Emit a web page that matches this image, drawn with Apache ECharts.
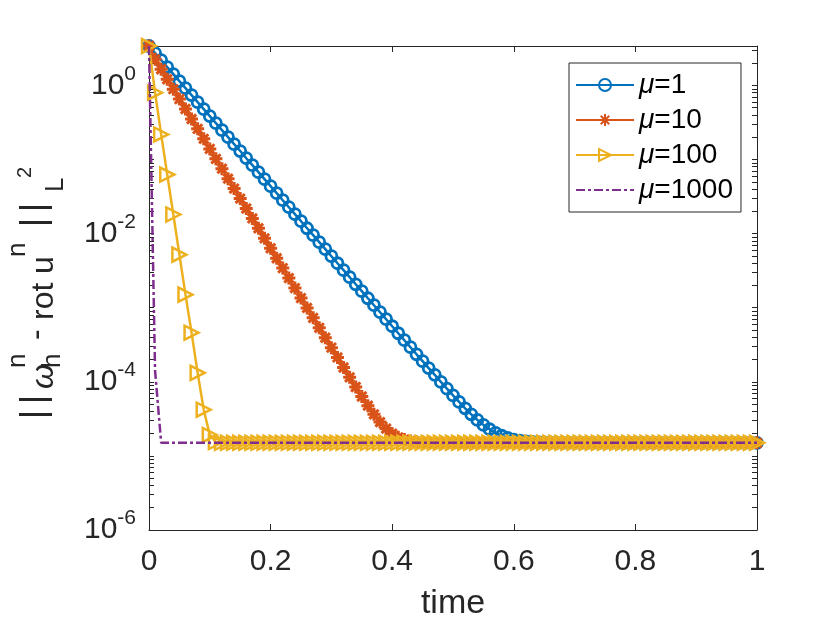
<!DOCTYPE html>
<html>
<head>
<meta charset="utf-8">
<script src="https://cdn.jsdelivr.net/npm/echarts@6/dist/echarts.min.js"></script>
<style>html,body{margin:0;padding:0;background:#fff}#c{width:840px;height:630px}</style>
</head>
<body>
<div id="c"></div>
<script>
const time = [
0,0.01,0.02,0.03,0.04,0.05,0.06,0.07,0.08,0.09,
0.1,0.11,0.12,0.13,0.14,0.15,0.16,0.17,0.18,0.19,
0.2,0.21,0.22,0.23,0.24,0.25,0.26,0.27,0.28,0.29,
0.3,0.31,0.32,0.33,0.34,0.35,0.36,0.37,0.38,0.39,
0.4,0.41,0.42,0.43,0.44,0.45,0.46,0.47,0.48,0.49,
0.5,0.51,0.52,0.53,0.54,0.55,0.56,0.57,0.58,0.59,
0.6,0.61,0.62,0.63,0.64,0.65,0.66,0.67,0.68,0.69,
0.7,0.71,0.72,0.73,0.74,0.75,0.76,0.77,0.78,0.79,
0.8,0.81,0.82,0.83,0.84,0.85,0.86,0.87,0.88,0.89,
0.9,0.91,0.92,0.93,0.94,0.95,0.96,0.97,0.98,0.99,
1];

const mu1 = [
3.4,2.73,2.19,1.76,1.42,1.14,0.918,0.739,0.594,0.478,
0.385,0.309,0.249,0.2,0.161,0.13,0.104,0.0839,0.0675,0.0543,
0.0437,0.0351,0.0282,0.0227,0.0183,0.0147,0.0118,0.00952,0.00766,0.00616,
0.00495,0.00398,0.00321,0.00258,0.00207,0.00167,0.00134,0.00108,8.69e-4,6.99e-4,
5.62e-4,4.52e-4,3.64e-4,2.93e-4,2.35e-4,1.9e-4,1.53e-4,1.24e-4,9.97e-5,8.07e-5,
6.55e-5,5.35e-5,4.39e-5,3.64e-5,3.06e-5,2.62e-5,2.29e-5,2.04e-5,1.87e-5,1.75e-5,
1.66e-5,1.61e-5,1.57e-5,1.55e-5,1.53e-5,1.52e-5,1.51e-5,1.5e-5,1.5e-5,1.5e-5,
1.5e-5,1.5e-5,1.5e-5,1.5e-5,1.5e-5,1.5e-5,1.5e-5,1.5e-5,1.5e-5,1.5e-5,
1.5e-5,1.5e-5,1.5e-5,1.5e-5,1.5e-5,1.5e-5,1.5e-5,1.5e-5,1.5e-5,1.5e-5,
1.5e-5,1.5e-5,1.5e-5,1.5e-5,1.5e-5,1.5e-5,1.5e-5,1.5e-5,1.5e-5,1.5e-5,
1.5e-5];

const mu10 = [
3.4,2.25,1.65,1.21,0.89,0.653,0.48,0.352,0.259,0.19,
0.139,0.102,0.0751,0.0551,0.0405,0.0297,0.0218,0.016,0.0118,0.00864,
0.00634,0.00465,0.00342,0.00251,0.00184,0.00135,9.93e-4,7.29e-4,5.35e-4,3.93e-4,
2.89e-4,2.13e-4,1.56e-4,1.15e-4,8.51e-5,6.33e-5,4.76e-5,3.64e-5,2.86e-5,2.34e-5,
1.99e-5,1.78e-5,1.66e-5,1.59e-5,1.55e-5,1.53e-5,1.51e-5,1.5e-5,1.5e-5,1.5e-5,
1.5e-5,1.5e-5,1.5e-5,1.5e-5,1.5e-5,1.5e-5,1.5e-5,1.5e-5,1.5e-5,1.5e-5,
1.5e-5,1.5e-5,1.5e-5,1.5e-5,1.5e-5,1.5e-5,1.5e-5,1.5e-5,1.5e-5,1.5e-5,
1.5e-5,1.5e-5,1.5e-5,1.5e-5,1.5e-5,1.5e-5,1.5e-5,1.5e-5,1.5e-5,1.5e-5,
1.5e-5,1.5e-5,1.5e-5,1.5e-5,1.5e-5,1.5e-5,1.5e-5,1.5e-5,1.5e-5,1.5e-5,
1.5e-5,1.5e-5,1.5e-5,1.5e-5,1.5e-5,1.5e-5,1.5e-5,1.5e-5,1.5e-5,1.5e-5,
1.5e-5];

const mu100 = [
3.4,0.797,0.218,0.0627,0.0181,0.0052,0.0015,4.6e-4,1.32e-4,4.2e-5,
1.92e-5,1.54e-5,1.5e-5,1.5e-5,1.5e-5,1.5e-5,1.5e-5,1.5e-5,1.5e-5,1.5e-5,
1.5e-5,1.5e-5,1.5e-5,1.5e-5,1.5e-5,1.5e-5,1.5e-5,1.5e-5,1.5e-5,1.5e-5,
1.5e-5,1.5e-5,1.5e-5,1.5e-5,1.5e-5,1.5e-5,1.5e-5,1.5e-5,1.5e-5,1.5e-5,
1.5e-5,1.5e-5,1.5e-5,1.5e-5,1.5e-5,1.5e-5,1.5e-5,1.5e-5,1.5e-5,1.5e-5,
1.5e-5,1.5e-5,1.5e-5,1.5e-5,1.5e-5,1.5e-5,1.5e-5,1.5e-5,1.5e-5,1.5e-5,
1.5e-5,1.5e-5,1.5e-5,1.5e-5,1.5e-5,1.5e-5,1.5e-5,1.5e-5,1.5e-5,1.5e-5,
1.5e-5,1.5e-5,1.5e-5,1.5e-5,1.5e-5,1.5e-5,1.5e-5,1.5e-5,1.5e-5,1.5e-5,
1.5e-5,1.5e-5,1.5e-5,1.5e-5,1.5e-5,1.5e-5,1.5e-5,1.5e-5,1.5e-5,1.5e-5,
1.5e-5,1.5e-5,1.5e-5,1.5e-5,1.5e-5,1.5e-5,1.5e-5,1.5e-5,1.5e-5,1.5e-5,
1.5e-5];

const mu1000 = [
3.4,1.4e-4,1.5e-5,1.5e-5,1.5e-5,1.5e-5,1.5e-5,1.5e-5,1.5e-5,1.5e-5,
1.5e-5,1.5e-5,1.5e-5,1.5e-5,1.5e-5,1.5e-5,1.5e-5,1.5e-5,1.5e-5,1.5e-5,
1.5e-5,1.5e-5,1.5e-5,1.5e-5,1.5e-5,1.5e-5,1.5e-5,1.5e-5,1.5e-5,1.5e-5,
1.5e-5,1.5e-5,1.5e-5,1.5e-5,1.5e-5,1.5e-5,1.5e-5,1.5e-5,1.5e-5,1.5e-5,
1.5e-5,1.5e-5,1.5e-5,1.5e-5,1.5e-5,1.5e-5,1.5e-5,1.5e-5,1.5e-5,1.5e-5,
1.5e-5,1.5e-5,1.5e-5,1.5e-5,1.5e-5,1.5e-5,1.5e-5,1.5e-5,1.5e-5,1.5e-5,
1.5e-5,1.5e-5,1.5e-5,1.5e-5,1.5e-5,1.5e-5,1.5e-5,1.5e-5,1.5e-5,1.5e-5,
1.5e-5,1.5e-5,1.5e-5,1.5e-5,1.5e-5,1.5e-5,1.5e-5,1.5e-5,1.5e-5,1.5e-5,
1.5e-5,1.5e-5,1.5e-5,1.5e-5,1.5e-5,1.5e-5,1.5e-5,1.5e-5,1.5e-5,1.5e-5,
1.5e-5,1.5e-5,1.5e-5,1.5e-5,1.5e-5,1.5e-5,1.5e-5,1.5e-5,1.5e-5,1.5e-5,
1.5e-5];

const seriesNames = ['μ=1', 'μ=10', 'μ=100', 'μ=1000'];
const seriesValues = [mu1, mu10, mu100, mu1000];
const yLabelValues = [1e-6, 1e-4, 1e-2, 1];
const xTickLabels = [0, 0.2, 0.4, 0.6, 0.8, 1];

// minor tick positions of the log axis (m x 10^k)
const yTickValues = [];
for (let k = -6; k <= 0; k++) {
  for (let m = 1; m <= 9; m++) {
    const v = Number(m + 'e' + k);
    if (v <= 3.4) yTickValues.push(v);
  }
}

const AX = '#262626';
const FONT = 'Liberation Sans';
const colors = ['#0072BD', '#D95319', '#EDB120', '#7E2F8E'];
const CLEAR = 'rgba(255,255,255,0)';
const asterisk = 'path://M0,-10L0,10M-10,0L10,0M-7.07,-7.07L7.07,7.07M-7.07,7.07L7.07,-7.07';

const styles = [
  { symbol: 'circle', symbolSize: 11, lineStyle: { width: 2.5, type: 'solid' }, itemStyle: { color: CLEAR, borderColor: colors[0], borderWidth: 2.8 } },
  { symbol: asterisk, symbolSize: 13, lineStyle: { width: 2.5, type: 'solid' }, itemStyle: { color: colors[1], borderColor: colors[1], borderWidth: 3 } },
  { symbol: 'triangle', symbolSize: 14, symbolRotate: -90, lineStyle: { width: 2.5, type: 'solid' }, itemStyle: { color: CLEAR, borderColor: colors[2], borderWidth: 2.5 } },
  { symbol: 'none', symbolSize: 0, lineStyle: { width: 2.5, type: [9, 3, 3, 3] }, itemStyle: { color: colors[3] } }
];

const series = seriesNames.map((name, si) => Object.assign({
  name: name,
  type: 'line',
  xAxisIndex: 0,
  yAxisIndex: 0,
  showAllSymbol: true,
  clip: true,
  z: 2 + si,
  data: time.map((t, i) => [t, seriesValues[si][i]])
}, styles[si], { lineStyle: Object.assign({ color: colors[si] }, styles[si].lineStyle) }));

// y-axis title pieces: [text, along, across, font]
const yTitleParts = [
  ['|', 1, -19.5, '35px "' + FONT + '"'],
  ['|', 16, -19.5, '35px "' + FONT + '"'],
  ['ω', 31, -11.1, 'italic 32px "' + FONT + '"'],
  ['n', 52, -37, '26px "' + FONT + '"'],
  ['h', 52, -2, '26px "' + FONT + '"'],
  ['-', 80, -18, '32px "' + FONT + '"'],
  ['rot', 100, -11.1, '32px "' + FONT + '"'],
  ['u', 146, -11.1, '32px "' + FONT + '"'],
  ['n', 163, -37, '26px "' + FONT + '"'],
  ['|', 193, -19.5, '35px "' + FONT + '"'],
  ['|', 208, -19.5, '35px "' + FONT + '"'],
  ['L', 228, 1, '26px "' + FONT + '"'],
  ['2', 242, -30, '20px "' + FONT + '"']
];

const legendData = seriesNames.map((n, i) => i === 3 ? { name: n, itemStyle: { opacity: 0 } } : { name: n });

const chart = echarts.init(document.getElementById('c'), null, { renderer: 'canvas' });
const option = {
  animation: false,
  backgroundColor: '#fff',
  grid: { left: 149, right: 83, top: 46, bottom: 100, containLabel: false },
  xAxis: [{
    type: 'value', min: 0, max: 1, interval: 0.2, position: 'bottom',
    name: 'time', nameLocation: 'middle', nameGap: 57,
    nameTextStyle: { fontSize: 34, color: AX, fontFamily: FONT },
    axisLine: { show: true, onZero: false, lineStyle: { color: AX, width: 1 } },
    axisTick: { show: true, inside: true, length: 6, lineStyle: { color: AX } },
    axisLabel: { fontSize: 30, color: AX, fontFamily: FONT, margin: 17, customValues: xTickLabels },
    splitLine: { show: false }
  }, {
    type: 'value', min: 0, max: 1, interval: 0.2, position: 'top',
    axisLine: { show: true, onZero: false, lineStyle: { color: AX, width: 1 } },
    axisTick: { show: true, inside: true, length: 6, lineStyle: { color: AX } },
    axisLabel: { show: false },
    splitLine: { show: false }
  }],
  yAxis: [{
    type: 'log', logBase: 10, min: 1e-6, max: 3.4, position: 'left',
    axisLine: { show: true, onZero: false, lineStyle: { color: AX, width: 1 } },
    axisTick: { show: true, inside: true, length: 5, lineStyle: { color: AX }, customValues: yTickValues },
    axisLabel: {
      customValues: yLabelValues, margin: 13, color: AX, fontFamily: FONT,
      formatter: function (v) {
        const e = Math.round(Math.log10(v));
        return '{b|10}{s|' + e + '}';
      },
      rich: {
        b: { fontSize: 30, lineHeight: 44, color: AX, fontFamily: FONT },
        s: { fontSize: 21, lineHeight: 21, verticalAlign: 'top', color: AX, fontFamily: FONT }
      }
    },
    splitLine: { show: false }
  }, {
    type: 'log', logBase: 10, min: 1e-6, max: 3.4, position: 'right',
    axisLine: { show: true, onZero: false, lineStyle: { color: AX, width: 1 } },
    axisTick: { show: true, inside: true, length: 5, lineStyle: { color: AX }, customValues: yTickValues },
    axisLabel: { show: false },
    splitLine: { show: false }
  }],
  legend: {
    data: legendData,
    orient: 'vertical', left: 569, top: 63,
    padding: [8, 8, 8, 6],
    itemWidth: 58, itemHeight: 15, itemGap: 7,
    selectedMode: false,
    backgroundColor: '#fff', borderColor: AX, borderWidth: 1, borderRadius: 0,
    textStyle: {
      fontSize: 28, lineHeight: 28, color: '#000', fontFamily: FONT,
      rich: {
        m: { fontSize: 28, lineHeight: 28, fontStyle: 'italic', color: '#000', fontFamily: FONT },
        t: { fontSize: 28, lineHeight: 28, color: '#000', fontFamily: FONT }
      }
    },
    formatter: function (name) { return '{m|μ}{t|' + name.slice(1) + '}'; }
  },
  graphic: [{
    type: 'group', x: 55, y: 420, rotation: Math.PI / 2,
    children: yTitleParts.map(p => ({
      type: 'text', x: p[1], y: p[2],
      style: { text: p[0], font: p[3], fill: AX, align: 'left', verticalAlign: 'middle', textAlign: 'left', textVerticalAlign: 'middle' }
    }))
  }],
  series: series
};
chart.setOption(option);
</script>
</body>
</html>
